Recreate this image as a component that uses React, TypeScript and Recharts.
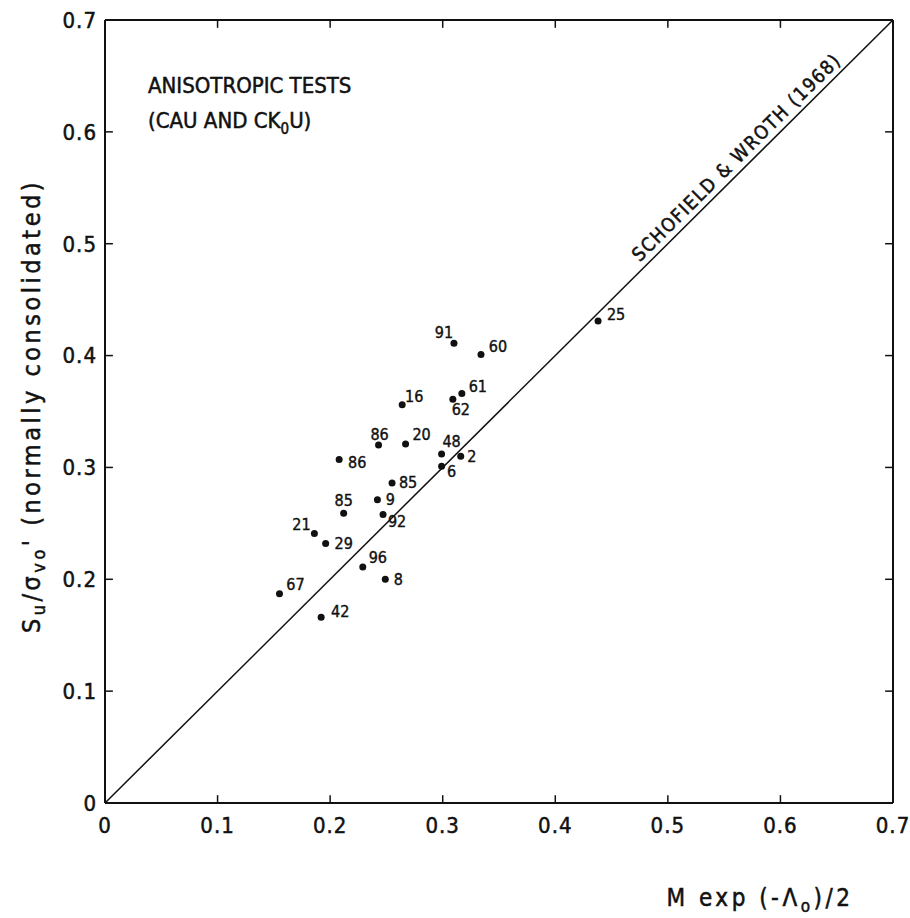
import {
  ScatterChart,
  Scatter,
  XAxis,
  YAxis,
  ReferenceLine,
  LabelList,
  Customized,
} from 'recharts';

// test results: normalized undrained strength vs predicted ratio
const testIds = ['91', '60', '61', '62', '16', '86', '20', '48', '2', '6', '86', '85', '85', '9', '92', '21', '29', '96', '8', '67', '42', '25'];
const predicted = [0.31, 0.334, 0.317, 0.309, 0.264, 0.243, 0.267, 0.299, 0.316, 0.299, 0.208, 0.255, 0.212, 0.242, 0.247, 0.186, 0.196, 0.229, 0.249, 0.155, 0.192, 0.438];
const measured = [0.411, 0.401, 0.366, 0.361, 0.356, 0.32, 0.321, 0.312, 0.31, 0.301, 0.307, 0.286, 0.259, 0.271, 0.258, 0.241, 0.232, 0.211, 0.2, 0.187, 0.166, 0.431];
const axisTicks = [0, 0.1, 0.2, 0.3, 0.4, 0.5, 0.6, 0.7];
const AXIS_MAX = 0.7;
const TICK_LEN = 0.007; // inward tick length, in axis units

// where each test number sits relative to its dot
const labelOffsets: [number, number][] = [
  [-10, -11], [17, -8], [16, -7], [8, 10], [12, -8], [1, -11], [16, -9], [10, -13],
  [11, 0], [10, 5], [18, 3], [16, -1], [0, -13], [13, 0], [14, 7], [-13, -9],
  [18, 0], [15, -9], [13, 0], [16, -9], [19, -6], [18, -6],
];

const points = testIds.map((id, i) => ({ id, x: predicted[i], y: measured[i] }));

const FONT = '"DejaVu Sans Condensed", "DejaVu Sans", sans-serif';
const INK = '#111';

const fmt = (v: number) => (v === 0 ? '0' : v.toFixed(1));

const PointLabel = (props: any) => {
  const { x, y, width, height, index } = props;
  const cx = x + (width || 0) / 2;
  const cy = y + (height || 0) / 2;
  const [dx, dy] = labelOffsets[index] || [12, 0];
  return (
    <text x={cx + dx} y={cy + dy} textAnchor="middle" dominantBaseline="central" fontSize={16} fontFamily={FONT} fill={INK} stroke={INK} strokeWidth={0.4}>
      {testIds[index]}
    </text>
  );
};

const Annotations = () => (
  <g fontFamily={FONT} fill={INK} stroke={INK} strokeWidth={0.5}>
    <text x={148} y={93} fontSize={22}>ANISOTROPIC TESTS</text>
    <text x={148} y={128} fontSize={22}>
      (CAU AND CK<tspan fontSize={15} dy={6}>0</tspan>
      <tspan dy={-6}>U)</tspan>
    </text>
    <text x={741} y={162} fontSize={19} letterSpacing={1.5} textAnchor="middle" transform="rotate(-44.8 741 162)">
      SCHOFIELD &amp; WROTH (1968)
    </text>
    <text x={40} y={406} fontSize={25} letterSpacing={3.5} textAnchor="middle" transform="rotate(-90 40 406)">
      S<tspan fontSize={18} dy={5}>u</tspan>
      <tspan dy={-5}>/σ</tspan>
      <tspan fontSize={18} dy={5}>vo</tspan>
      <tspan dy={-5}>' (normally consolidated)</tspan>
    </text>
    <text x={760} y={906} fontSize={24} letterSpacing={3.5} textAnchor="middle">
      M exp (-Λ<tspan fontSize={17} dy={6}>o</tspan>
      <tspan dy={-6}>)/2</tspan>
    </text>
  </g>
);

const tickStyle = { fill: INK, stroke: INK, strokeWidth: 0.5, fontSize: 22, fontFamily: FONT, letterSpacing: 1 };

export default function App() {
  return (
    <div style={{ position: 'absolute', left: 0, top: 0, width: 910, height: 918, background: '#fff' }}>
      <ScatterChart width={910} height={918} margin={{ top: 20, right: 17, bottom: 75, left: 45 }}>
        <XAxis
          type="number"
          dataKey="x"
          domain={[0, AXIS_MAX]}
          ticks={axisTicks}
          tickFormatter={fmt}
          height={40}
          tickSize={0}
          tickMargin={14}
          tickLine={false}
          axisLine={{ stroke: INK, strokeWidth: 2 }}
          tick={tickStyle}
          allowDataOverflow
        />
        <YAxis
          type="number"
          dataKey="y"
          domain={[0, AXIS_MAX]}
          ticks={axisTicks}
          tickFormatter={fmt}
          width={60}
          tickSize={0}
          tickMargin={8}
          tickLine={false}
          axisLine={{ stroke: INK, strokeWidth: 2 }}
          tick={tickStyle}
          allowDataOverflow
        />
        {/* frame: top and right edges */}
        <ReferenceLine y={AXIS_MAX} stroke={INK} strokeWidth={2} />
        <ReferenceLine x={AXIS_MAX} stroke={INK} strokeWidth={2} />
        {/* inward ticks on all four sides */}
        {axisTicks.slice(1, -1).map((t) => (
          <ReferenceLine key={`b${t}`} segment={[{ x: t, y: 0 }, { x: t, y: TICK_LEN }]} stroke={INK} strokeWidth={1.5} />
        ))}
        {axisTicks.slice(1, -1).map((t) => (
          <ReferenceLine key={`t${t}`} segment={[{ x: t, y: AXIS_MAX }, { x: t, y: AXIS_MAX - TICK_LEN }]} stroke={INK} strokeWidth={1.5} />
        ))}
        {axisTicks.slice(1, -1).map((t) => (
          <ReferenceLine key={`l${t}`} segment={[{ x: 0, y: t }, { x: TICK_LEN, y: t }]} stroke={INK} strokeWidth={1.5} />
        ))}
        {axisTicks.slice(1, -1).map((t) => (
          <ReferenceLine key={`r${t}`} segment={[{ x: AXIS_MAX, y: t }, { x: AXIS_MAX - TICK_LEN, y: t }]} stroke={INK} strokeWidth={1.5} />
        ))}
        {/* 1:1 line */}
        <ReferenceLine segment={[{ x: 0, y: 0 }, { x: AXIS_MAX, y: AXIS_MAX }]} stroke={INK} strokeWidth={1.5} />
        <Scatter data={points} fill={INK} isAnimationActive={false} shape={(p: any) => <circle cx={p.cx} cy={p.cy} r={3.5} fill={INK} />}>
          <LabelList dataKey="id" content={<PointLabel />} />
        </Scatter>
        <Customized component={Annotations} />
      </ScatterChart>
    </div>
  );
}
